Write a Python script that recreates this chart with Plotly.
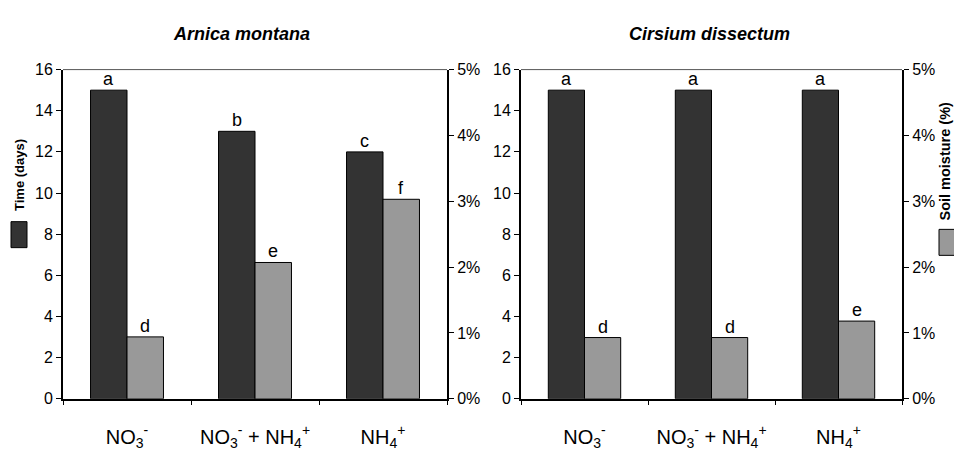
import plotly.graph_objects as go

W, H = 954, 453

categories = ["NO<sub>3</sub><sup>-</sup>",
              "NO<sub>3</sub><sup>-</sup> + NH<sub>4</sub><sup>+</sup>",
              "NH<sub>4</sub><sup>+</sup>"]
titles = ["Arnica montana", "Cirsium dissectum"]

# Time (days), dark bars, left axis
arnica_time = [15, 13, 12]
cirsium_time = [15, 15, 15]
# Soil moisture (fraction), grey bars, right axis
arnica_moist = [0.0094, 0.0207, 0.0303]
cirsium_moist = [0.0093, 0.0093, 0.0118]

arnica_time_letters = ["a", "b", "c"]
arnica_moist_letters = ["d", "e", "f"]
cirsium_time_letters = ["a", "a", "a"]
cirsium_moist_letters = ["d", "d", "e"]

y_ticks = [0, 2, 4, 6, 8, 10, 12, 14, 16]
y2_ticks = [0, 0.01, 0.02, 0.03, 0.04, 0.05]

FONT = "Liberation Sans, Arial, sans-serif"
DARK = "#333333"
GREY = "#999999"
BW = 0.285

def px(x):
    return x / W

def py(y):
    return 1 - y / H

xdom1 = [px(63), px(447)]
xdom2 = [px(521), px(902)]
ydom = [py(406), py(64)]

fig = go.Figure()
xs = list(range(len(categories)))

panels = [
    ("x", "y", "y2", arnica_time, arnica_moist, arnica_time_letters, arnica_moist_letters),
    ("x2", "y3", "y4", cirsium_time, cirsium_moist, cirsium_time_letters, cirsium_moist_letters),
]

annotations = []
letter_font = dict(family=FONT, size=18, color="black")
for xa, ya, yb, tvals, mvals, tl, ml in panels:
    fig.add_trace(go.Bar(x=xs, y=tvals, width=BW, offset=-BW, xaxis=xa, yaxis=ya,
                         marker=dict(color=DARK, line=dict(color="black", width=1)),
                         showlegend=False, hoverinfo="skip"))
    fig.add_trace(go.Bar(x=xs, y=mvals, width=BW, offset=0, xaxis=xa, yaxis=yb,
                         marker=dict(color=GREY, line=dict(color="black", width=1)),
                         showlegend=False, hoverinfo="skip"))
    for i in xs:
        annotations.append(dict(x=i - BW / 2, y=tvals[i], xref=xa, yref=ya, text=tl[i],
                                showarrow=False, yanchor="bottom", yshift=-1, font=letter_font))
        annotations.append(dict(x=i + BW / 2, y=mvals[i], xref=xa, yref=yb, text=ml[i],
                                showarrow=False, yanchor="bottom", yshift=-1, font=letter_font))

# panel titles
for t, cx in zip(titles, [241, 709]):
    annotations.append(dict(x=px(cx), y=py(27), xref="paper", yref="paper",
                            text="<b><i>" + t + "</i></b>", showarrow=False,
                            xanchor="center", yanchor="middle",
                            font=dict(family=FONT, size=18, color="black")))

# legend texts
annotations.append(dict(x=px(19.5), y=py(174), xref="paper", yref="paper",
                        text="<b>Time (days)</b>", textangle=-90, showarrow=False,
                        xanchor="center", yanchor="middle",
                        font=dict(family=FONT, size=13, color="black")))
annotations.append(dict(x=px(945.5), y=py(159), xref="paper", yref="paper",
                        text="<b>Soil moisture (%)</b>", textangle=-90, showarrow=False,
                        xanchor="center", yanchor="middle",
                        font=dict(family=FONT, size=14.5, color="black")))

shapes = [
    dict(type="rect", xref="paper", yref="paper", x0=px(11), x1=px(27), y0=py(249), y1=py(222),
         fillcolor=DARK, line=dict(color="black", width=1)),
    dict(type="rect", xref="paper", yref="paper", x0=px(939), x1=px(960), y0=py(257), y1=py(230),
         fillcolor=GREY, line=dict(color="black", width=1)),
]
for d in (xdom1, xdom2):
    shapes.append(dict(type="line", xref="paper", yref="paper", x0=d[0], x1=d[1],
                       y0=ydom[1], y1=ydom[1], line=dict(color="#555555", width=1)))

tickfont = dict(family=FONT, size=16, color="black")
xaxis_common = dict(range=[-0.5, 2.5], tickmode="array", tickvals=xs, ticktext=categories,
                    ticks="", showline=True, linewidth=2, linecolor="black",
                    showgrid=False, zeroline=False, ticklabelstandoff=19,
                    tickfont=dict(family=FONT, size=20, color="black"),
                    minor=dict(tickmode="linear", tick0=-0.5, dtick=1, ticks="outside",
                               ticklen=4, tickwidth=1, tickcolor="black", showgrid=False))
yleft = dict(range=[0, 16], tickmode="array", tickvals=y_ticks, ticks="outside", ticklen=5,
             tickwidth=1, tickcolor="black", showline=True, linewidth=2, linecolor="black",
             showgrid=False, zeroline=False, tickfont=tickfont, domain=ydom)
yright = dict(range=[0, 0.05], tickmode="array", tickvals=y2_ticks, tickformat=".0%",
              ticks="outside", ticklen=5, tickwidth=1, tickcolor="black", showline=True,
              linewidth=2, linecolor="black", showgrid=False, zeroline=False,
              tickfont=tickfont, side="right")

fig.update_layout(
    width=W, height=H, margin=dict(l=0, r=0, t=0, b=0),
    paper_bgcolor="white", plot_bgcolor="white",
    barmode="overlay", showlegend=False,
    font=dict(family=FONT, size=16, color="black"),
    xaxis=dict(domain=xdom1, anchor="y", **xaxis_common),
    xaxis2=dict(domain=xdom2, anchor="y3", **xaxis_common),
    yaxis=dict(anchor="x", **yleft),
    yaxis2=dict(anchor="x", overlaying="y", **yright),
    yaxis3=dict(anchor="x2", **yleft),
    yaxis4=dict(anchor="x2", overlaying="y3", **yright),
    annotations=annotations, shapes=shapes,
)

fig.write_html("out.html")
